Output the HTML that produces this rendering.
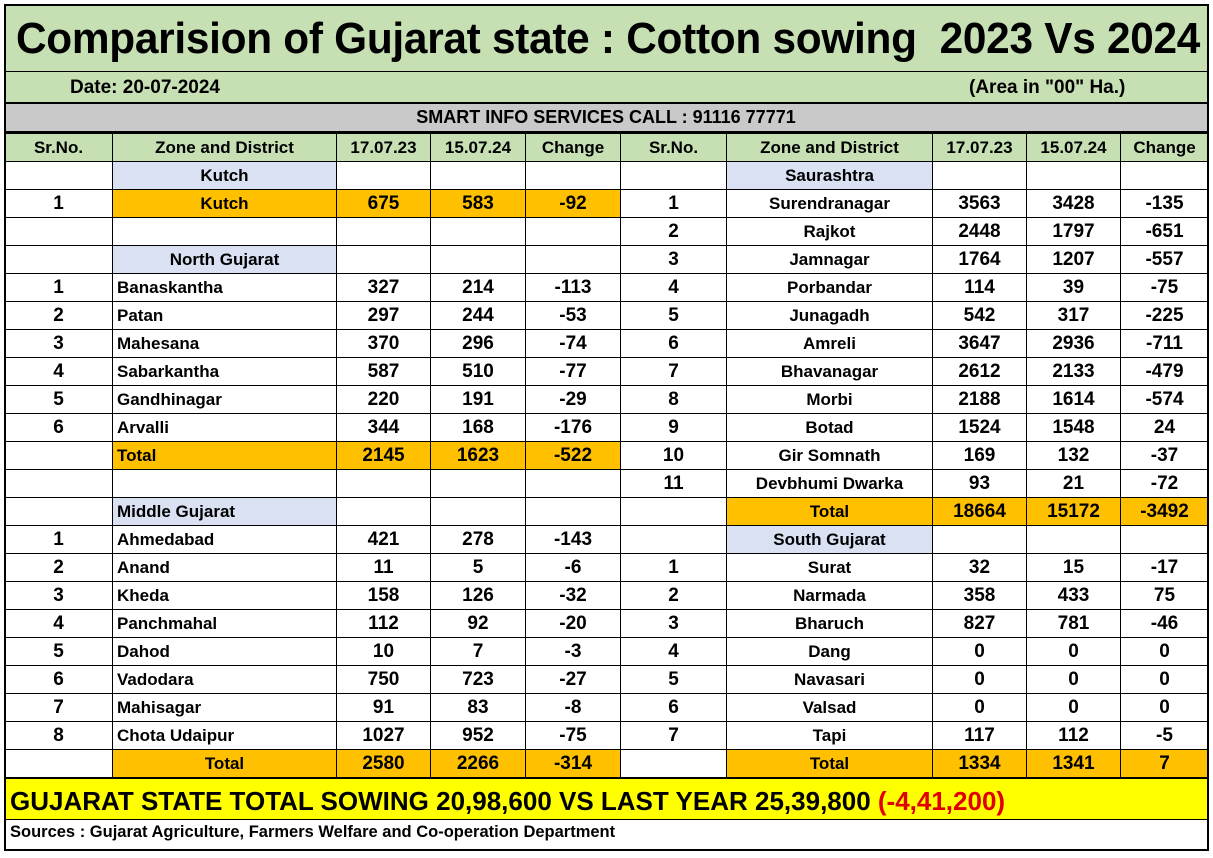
<!DOCTYPE html>
<html><head><meta charset="utf-8"><style>
body{margin:0;width:1213px;height:858px;background:#fff;font-family:"Liberation Sans",sans-serif;font-weight:bold;color:#000;position:relative;overflow:hidden}
.box{position:absolute;left:4px;top:4px;width:1201px;height:843px;border:2px solid #000;border-left-width:2px}
.title{position:absolute;left:4px;top:4px;width:1204px;height:67px;background:#c6e0b4;border-bottom:2px solid #000;white-space:nowrap}
.title span{position:absolute;left:12px;top:10px;font-size:44px;transform:scaleX(0.963);transform-origin:left top;letter-spacing:-0.3px}
.date{position:absolute;left:4px;top:72px;width:1204px;height:30px;background:#c6e0b4;border-bottom:2px solid #000;font-size:19px}
.gray{position:absolute;left:4px;top:104px;width:1204px;height:27px;background:#c9c9c9;border-bottom:2px solid #000;font-size:18px;text-align:center;line-height:27px}
table{position:absolute;left:4px;top:133px;border-collapse:collapse;table-layout:fixed;width:1204px}
td{border:1px solid #000;height:27px;padding:0;font-size:17px;text-align:center;white-space:nowrap;overflow:hidden}
td.n{font-size:19px}
td.l{text-align:left;padding-left:4px}
.g{background:#c6e0b4}.b{background:#d9e1f2}.o{background:#ffc000}
.yel{position:absolute;left:4px;top:777px;width:1204px;height:40px;background:#ffff00;border-top:2px solid #000;border-bottom:1px solid #000;font-size:26px;line-height:44px;white-space:nowrap}
.yel span.in{display:inline-block;transform:scaleX(1.0);transform-origin:left;padding-left:6px}
.src{position:absolute;left:10px;top:823px;font-size:16.5px}
</style></head><body>
<div class="title"><span>Comparision of Gujarat state : Cotton sowing&nbsp; 2023 Vs 2024</span></div>
<div class="date"><span style="position:absolute;left:66px;top:5px">Date: 20-07-2024</span><span style="position:absolute;left:965px;top:5px">(Area in "00" Ha.)</span></div>
<div class="gray">SMART INFO SERVICES CALL : 91116 77771</div>
<table>
<colgroup><col style="width:108px"><col style="width:224px"><col style="width:94px"><col style="width:95px"><col style="width:95px"><col style="width:106px"><col style="width:206px"><col style="width:94px"><col style="width:94px"><col style="width:88px"></colgroup>
<tr class="g"><td>Sr.No.</td><td>Zone and District</td><td>17.07.23</td><td>15.07.24</td><td>Change</td><td>Sr.No.</td><td>Zone and District</td><td>17.07.23</td><td>15.07.24</td><td>Change</td></tr>
<tr><td></td><td class="b">Kutch</td><td></td><td></td><td></td><td></td><td class="b">Saurashtra</td><td></td><td></td><td></td></tr>
<tr><td class="n">1</td><td class="o">Kutch</td><td class="o n">675</td><td class="o n">583</td><td class="o n">-92</td><td class="n">1</td><td>Surendranagar</td><td class="n">3563</td><td class="n">3428</td><td class="n">-135</td></tr>
<tr><td></td><td></td><td></td><td></td><td></td><td class="n">2</td><td>Rajkot</td><td class="n">2448</td><td class="n">1797</td><td class="n">-651</td></tr>
<tr><td></td><td class="b">North Gujarat</td><td></td><td></td><td></td><td class="n">3</td><td>Jamnagar</td><td class="n">1764</td><td class="n">1207</td><td class="n">-557</td></tr>
<tr><td class="n">1</td><td class="l">Banaskantha</td><td class="n">327</td><td class="n">214</td><td class="n">-113</td><td class="n">4</td><td>Porbandar</td><td class="n">114</td><td class="n">39</td><td class="n">-75</td></tr>
<tr><td class="n">2</td><td class="l">Patan</td><td class="n">297</td><td class="n">244</td><td class="n">-53</td><td class="n">5</td><td>Junagadh</td><td class="n">542</td><td class="n">317</td><td class="n">-225</td></tr>
<tr><td class="n">3</td><td class="l">Mahesana</td><td class="n">370</td><td class="n">296</td><td class="n">-74</td><td class="n">6</td><td>Amreli</td><td class="n">3647</td><td class="n">2936</td><td class="n">-711</td></tr>
<tr><td class="n">4</td><td class="l">Sabarkantha</td><td class="n">587</td><td class="n">510</td><td class="n">-77</td><td class="n">7</td><td>Bhavanagar</td><td class="n">2612</td><td class="n">2133</td><td class="n">-479</td></tr>
<tr><td class="n">5</td><td class="l">Gandhinagar</td><td class="n">220</td><td class="n">191</td><td class="n">-29</td><td class="n">8</td><td>Morbi</td><td class="n">2188</td><td class="n">1614</td><td class="n">-574</td></tr>
<tr><td class="n">6</td><td class="l">Arvalli</td><td class="n">344</td><td class="n">168</td><td class="n">-176</td><td class="n">9</td><td>Botad</td><td class="n">1524</td><td class="n">1548</td><td class="n">24</td></tr>
<tr><td></td><td class="l o">Total</td><td class="o n">2145</td><td class="o n">1623</td><td class="o n">-522</td><td class="n">10</td><td>Gir Somnath</td><td class="n">169</td><td class="n">132</td><td class="n">-37</td></tr>
<tr><td></td><td></td><td></td><td></td><td></td><td class="n">11</td><td>Devbhumi Dwarka</td><td class="n">93</td><td class="n">21</td><td class="n">-72</td></tr>
<tr><td></td><td class="l b">Middle Gujarat</td><td></td><td></td><td></td><td></td><td class="o">Total</td><td class="o n">18664</td><td class="o n">15172</td><td class="o n">-3492</td></tr>
<tr><td class="n">1</td><td class="l">Ahmedabad</td><td class="n">421</td><td class="n">278</td><td class="n">-143</td><td></td><td class="b">South Gujarat</td><td></td><td></td><td></td></tr>
<tr><td class="n">2</td><td class="l">Anand</td><td class="n">11</td><td class="n">5</td><td class="n">-6</td><td class="n">1</td><td>Surat</td><td class="n">32</td><td class="n">15</td><td class="n">-17</td></tr>
<tr><td class="n">3</td><td class="l">Kheda</td><td class="n">158</td><td class="n">126</td><td class="n">-32</td><td class="n">2</td><td>Narmada</td><td class="n">358</td><td class="n">433</td><td class="n">75</td></tr>
<tr><td class="n">4</td><td class="l">Panchmahal</td><td class="n">112</td><td class="n">92</td><td class="n">-20</td><td class="n">3</td><td>Bharuch</td><td class="n">827</td><td class="n">781</td><td class="n">-46</td></tr>
<tr><td class="n">5</td><td class="l">Dahod</td><td class="n">10</td><td class="n">7</td><td class="n">-3</td><td class="n">4</td><td>Dang</td><td class="n">0</td><td class="n">0</td><td class="n">0</td></tr>
<tr><td class="n">6</td><td class="l">Vadodara</td><td class="n">750</td><td class="n">723</td><td class="n">-27</td><td class="n">5</td><td>Navasari</td><td class="n">0</td><td class="n">0</td><td class="n">0</td></tr>
<tr><td class="n">7</td><td class="l">Mahisagar</td><td class="n">91</td><td class="n">83</td><td class="n">-8</td><td class="n">6</td><td>Valsad</td><td class="n">0</td><td class="n">0</td><td class="n">0</td></tr>
<tr><td class="n">8</td><td class="l">Chota Udaipur</td><td class="n">1027</td><td class="n">952</td><td class="n">-75</td><td class="n">7</td><td>Tapi</td><td class="n">117</td><td class="n">112</td><td class="n">-5</td></tr>
<tr><td></td><td class="o">Total</td><td class="o n">2580</td><td class="o n">2266</td><td class="o n">-314</td><td></td><td class="o">Total</td><td class="o n">1334</td><td class="o n">1341</td><td class="o n">7</td></tr>
</table>
<div class="yel"><span class="in">GUJARAT STATE TOTAL SOWING 20,98,600 VS LAST YEAR 25,39,800 <span style="color:#e00000">(-4,41,200)</span></span></div>
<div class="src">Sources : Gujarat Agriculture, Farmers Welfare and Co-operation Department</div>
<div class="box"></div>
</body></html>
